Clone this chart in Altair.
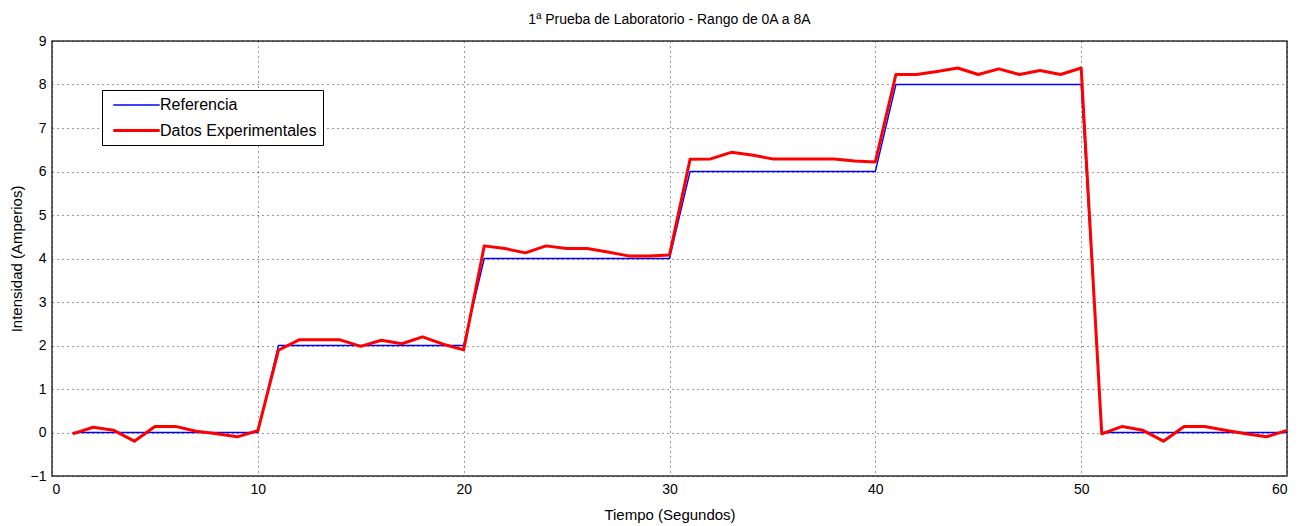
import altair as alt
import pandas as pd

tiempo = list(range(1, 61))
referencia = [0]*10 + [2]*10 + [4]*10 + [6]*10 + [8]*10 + [0]*10
experimental = [
    -0.03, 0.12, 0.05, -0.2, 0.14, 0.14, 0.03, -0.03, -0.1, 0.04,
    1.89, 2.13, 2.13, 2.13, 1.98, 2.12, 2.04, 2.2, 2.03, 1.9,
    4.29, 4.23, 4.13, 4.29, 4.23, 4.23, 4.15, 4.06, 4.06, 4.08,
    6.28, 6.29, 6.44, 6.38, 6.29, 6.29, 6.29, 6.29, 6.24, 6.22,
    8.23, 8.23, 8.3, 8.38, 8.23, 8.36, 8.23, 8.32, 8.23, 8.38,
    -0.03, 0.14, 0.05, -0.2, 0.14, 0.14, 0.05, -0.03, -0.1, 0.05,
]
series = ["Referencia", "Datos Experimentales"]

rows = []
for t, r in zip(tiempo, referencia):
    rows.append({"t": t, "v": r, "serie": series[0]})
for t, e in zip(tiempo, experimental):
    rows.append({"t": t, "v": e, "serie": series[1]})
df = pd.DataFrame(rows)

FONT = "Liberation Sans"

chart = alt.Chart(df).mark_line(strokeJoin="round").encode(
    x=alt.X("t:Q", title="Tiempo (Segundos)",
            scale=alt.Scale(domain=[0, 60], nice=False, zero=False),
            axis=alt.Axis(values=[0, 10, 20, 30, 40, 50, 60], format="d")),
    y=alt.Y("v:Q", title="Intensidad (Amperios)",
            scale=alt.Scale(domain=[-1, 9], nice=False, zero=False),
            axis=alt.Axis(values=list(range(-1, 10)), format="d")),
    color=alt.Color("serie:N", scale=alt.Scale(domain=series, range=["#0000ff", "#ff0000"]),
                    sort=series,
                    legend=alt.Legend(title=None, orient="none", legendX=50, legendY=49,
                                      symbolType="M-2.9,0H2.9", symbolSize=256,
                                      symbolOffset=19,
                                      fillColor="white", strokeColor="#000000",
                                      padding=6, labelFontSize=16, labelFont=FONT,
                                      labelOffset=14, labelColor="#000000", rowPadding=8)),
    strokeWidth=alt.StrokeWidth("serie:N", scale=alt.Scale(domain=series, range=[1.4, 3]),
                                sort=series, legend=None),
    detail="serie:N",
    order=alt.Order("t:Q"),
).properties(
    width=1235, height=435,
    title=alt.Title("1ª Prueba de Laboratorio - Rango de 0A a 8A", font=FONT,
                    fontSize=14, fontWeight="normal", color="#000000", offset=7),
    padding={"left": 44, "top": 33, "right": 15, "bottom": 52},
    autosize=alt.AutoSizeParams(type="none"),
).configure_axis(
    labelFont=FONT, titleFont=FONT, labelFontSize=14, titleFontSize=15,
    titleFontWeight="normal", labelColor="#000000", titleColor="#000000",
    grid=True, gridDash=[1, 4], gridColor="#000000", gridOpacity=0.8, gridWidth=1,
    domain=False, ticks=False, labelPadding=6,
).configure_axisX(titlePadding=11).configure_axisY(titlePadding=6).configure_view(
    stroke="#333333", strokeWidth=1.5
)

chart.save("out.html", embed_options={"renderer": "svg", "actions": False})
